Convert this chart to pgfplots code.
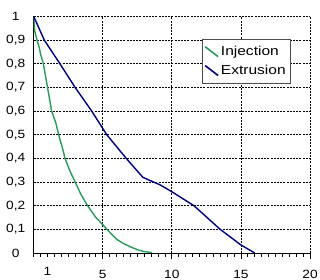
\documentclass[border=0pt]{standalone}
\usepackage{fontspec}
\setmainfont{Liberation Sans}[FakeStretch=1.15]
\newfontfamily\legfont{Liberation Sans}[FakeStretch=1.2]
\usepackage{pgfplots}
\pgfplotsset{compat=1.18}
\definecolor{injgreen}{RGB}{40,155,90}
\definecolor{extnavy}{RGB}{0,0,128}
\begin{document}
\begin{tikzpicture}
\useasboundingbox (-33.7bp,-27bp) rectangle (286.3bp,253bp);
\begin{axis}[
  at={(0,0)}, anchor=south west,
  scale only axis, width=276.3bp, height=236.5bp,
  xmin=0, xmax=20, ymin=0, ymax=1,
  axis x line*=bottom, axis y line*=left,
  axis line style={black, line width=1bp, -},
  xtick={5,10,15,20}, xticklabels={5,10,15,20},
  extra x ticks={1}, extra x tick labels={1},
  extra x tick style={grid=none, major tick length=3.5bp},
  minor xtick={0,0.5,...,20},
  ytick={0,0.1,0.2,0.3,0.4,0.5,0.6,0.7,0.8,0.9,1},
  yticklabels={0,{0,1},{0,2},{0,3},{0,4},{0,5},{0,6},{0,7},{0,8},{0,9},1},
  tick align=outside,
  major tick length=6bp, minor tick length=3.5bp,
  tick style={black, line width=0.8bp},
  ytick style={draw=none},
  xmajorgrids, ymajorgrids,
  major grid style={black, dash pattern=on 2bp off 1.2bp, line width=0.8bp},
  tick label style={font=\fontsize{12}{14}\selectfont},
  xticklabel style={anchor=center, yshift=-15bp},
  yticklabel style={anchor=center, xshift=-12bp},
  legend style={at={(axis cs:12.15,0.905)}, anchor=north west,
    draw=black!70, line width=0.6bp, fill=white,
    font=\legfont\fontsize{13}{15}\selectfont, inner xsep=2.5bp, inner ysep=5bp, row sep=4bp},
  legend cell align=left,
  legend image code/.code={\draw[#1, line width=1.6bp] (0bp,5bp) -- (13bp,-5bp);},
]
\addplot[injgreen, line width=1.4bp] coordinates {
(0,1) (0.07,0.94) (0.15,0.92) (0.24,0.9) (0.4,0.87) (0.5,0.84) (0.7,0.8)
(0.85,0.75) (1.0,0.7) (1.15,0.65) (1.3,0.6) (1.6,0.55) (1.9,0.48)
(2.1,0.44) (2.27,0.4) (2.6,0.35) (3.0,0.3) (3.4,0.25) (3.9,0.2)
(4.5,0.15) (5.0,0.12) (5.3,0.1) (6.0,0.058) (6.5,0.04) (7.0,0.026)
(7.5,0.014) (8.0,0.006) (8.55,0.002)
};
\addlegendentry{Injection}
\addplot[extnavy, line width=1.4bp] coordinates {
(0,1) (0.35,0.955) (0.77,0.9) (1.9,0.8) (3.0,0.7) (4.2,0.6) (5.29,0.5) (6.7,0.4)
(7.9,0.32) (9.15,0.288) (10,0.259) (11.6,0.2) (13.5,0.1) (15,0.034) (16,0)
};
\addlegendentry{Extrusion}
\end{axis}
\end{tikzpicture}
\end{document}
